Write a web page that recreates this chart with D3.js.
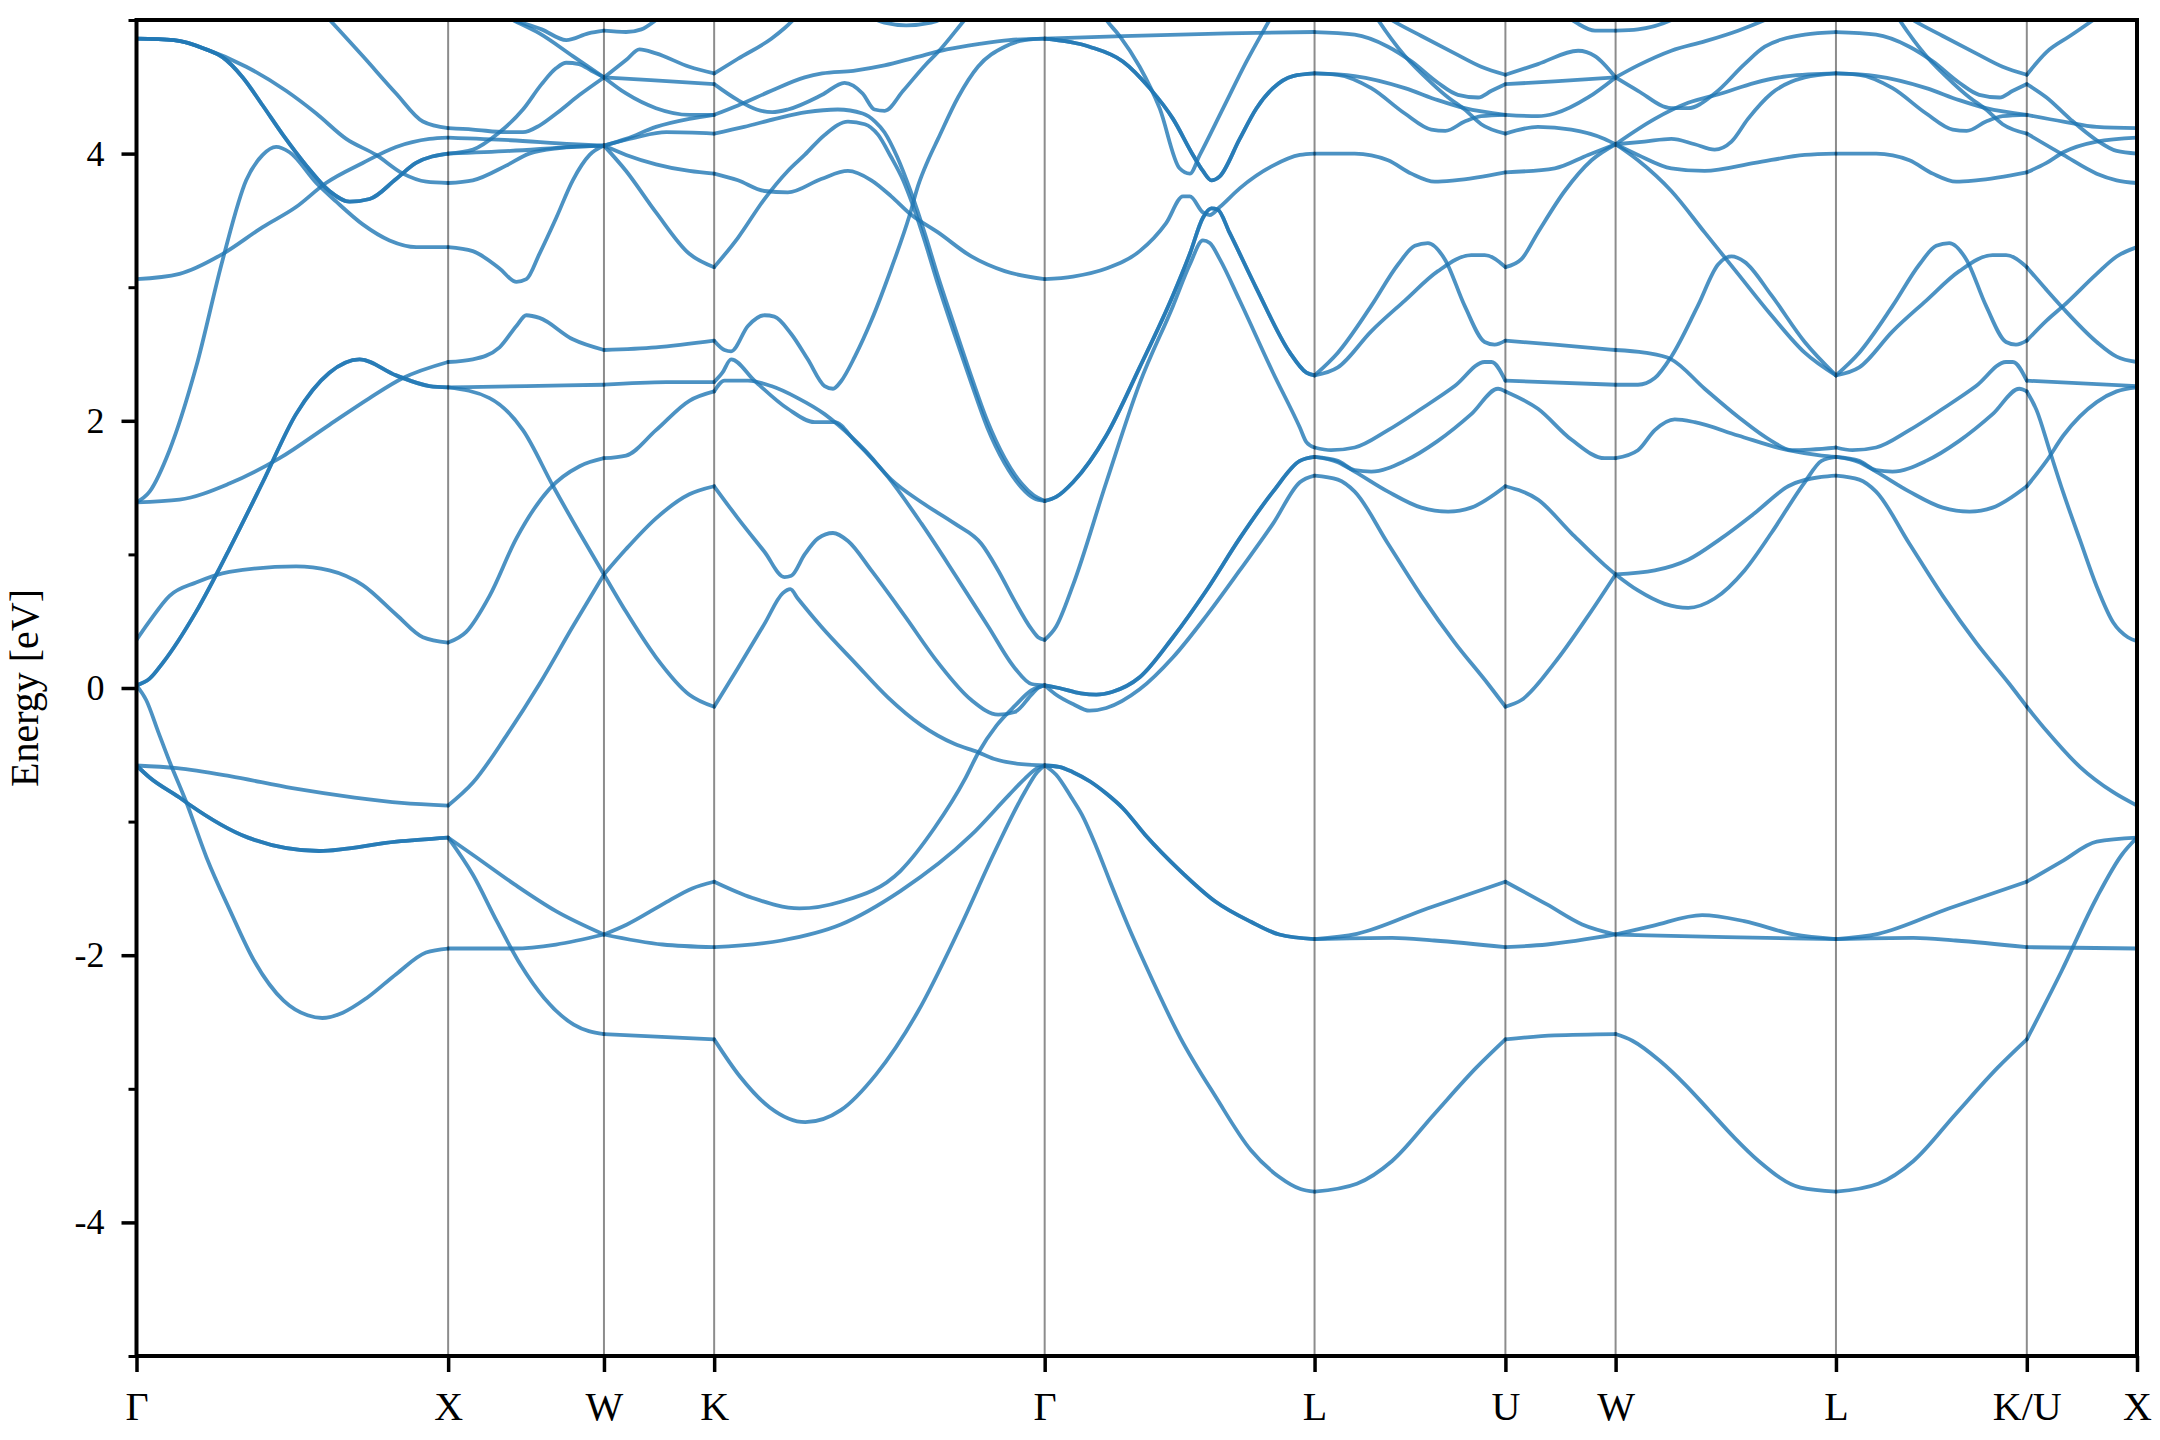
<!DOCTYPE html>
<html><head><meta charset="utf-8">
<script src="https://cdn.jsdelivr.net/npm/d3@7"></script>
<style>html,body{margin:0;padding:0;background:#fff;} svg{display:block;font-family:"Liberation Serif","Times New Roman",serif;}</style>
</head><body><svg id="chart" width="2160" height="1440"></svg>
<script>
// ---------- DATA ----------
const kTicks = [0, 1, 1.5, 1.8536, 2.9142, 3.7802, 4.3926, 4.7462, 5.4533, 6.0657, 6.4193];
const kLabels = ["Γ","X","W","K","Γ","L","U","W","L","K/U","X"];
const yMajorTicks = [-4,-2,0,2,4];
const yMinorTicks = [-5,-3,-1,1,3,5];

// Γ–X
const gxB2 = [[0,4.86],[0.12,4.85],[0.224,4.78],[0.277,4.72],[0.341,4.57],[0.405,4.36],[0.47,4.14],[0.545,3.91],[0.619,3.72],[0.684,3.64],[0.748,3.66],[0.833,3.81],[0.897,3.93],[1,4.00]];
const gxF = [[0,0.02],[0.042,0.07],[0.085,0.19],[0.191,0.57],[0.298,1.04],[0.405,1.54],[0.512,2.05],[0.619,2.36],[0.716,2.46],[0.833,2.34],[0.94,2.26],[1,2.25]];
const gxJ = [[0,-0.58],[0.042,-0.67],[0.138,-0.82],[0.168,-0.87],[0.358,-1.12],[0.586,-1.22],[0.834,-1.15],[1,-1.12]];
const bandsGX = [
  [[0.45,5.4],[0.53,5.22],[0.62,5.0],[0.726,4.73],[0.833,4.45],[0.919,4.24],[1,4.19]],
  [[0,4.86],[0.12,4.85],[0.224,4.78],[0.352,4.65],[0.48,4.47],[0.577,4.30],[0.673,4.11],[0.769,3.99],[0.855,3.85],[0.93,3.79],[1,3.78]],
  gxB2, gxB2,
  [[0,3.06],[0.138,3.10],[0.277,3.25],[0.405,3.45],[0.512,3.60],[0.608,3.78],[0.726,3.93],[0.833,4.05],[0.94,4.11],[1,4.12]],
  [[0,1.39],[0.042,1.47],[0.106,1.78],[0.191,2.40],[0.277,3.21],[0.352,3.80],[0.405,3.99],[0.448,4.05],[0.491,4.01],[0.577,3.78],[0.641,3.64],[0.726,3.47],[0.812,3.35],[0.898,3.30],[1,3.30]],
  [[0,1.39],[0.138,1.41],[0.298,1.53],[0.459,1.72],[0.619,1.97],[0.748,2.17],[0.855,2.32],[1,2.44]],
  gxF, gxF,
  [[0,0.36],[0.042,0.50],[0.106,0.69],[0.191,0.79],[0.298,0.87],[0.512,0.91],[0.619,0.88],[0.726,0.77],[0.833,0.55],[0.919,0.38],[1,0.34]],
  [[0,0.02],[0.031,-0.09],[0.07,-0.33],[0.106,-0.55],[0.159,-0.85],[0.225,-1.27],[0.301,-1.67],[0.377,-2.04],[0.472,-2.34],[0.549,-2.45],[0.596,-2.47],[0.662,-2.43],[0.739,-2.32],[0.834,-2.14],[0.929,-1.98],[1,-1.95]],
  [[0,-0.58],[0.13,-0.60],[0.3,-0.66],[0.5,-0.75],[0.7,-0.82],[0.85,-0.86],[1,-0.88]],
  gxJ, gxJ
];

// X–W
const bandsXW = [
  [[1.05,5.2],[1.208,5.0],[1.293,4.90],[1.4,4.73],[1.5,4.57]],
  [[1.1,5.1],[1.208,5.0],[1.3,4.93],[1.379,4.85],[1.45,4.90],[1.5,4.92]],
  [[1,4.19],[1.08,4.18],[1.186,4.16],[1.24,4.16],[1.293,4.21],[1.347,4.30],[1.422,4.44],[1.5,4.57]],
  [[1,4.12],[1.2,4.10],[1.4,4.07],[1.5,4.06]],
  [[1,4.00],[1.08,4.03],[1.16,4.15],[1.24,4.33],[1.30,4.52],[1.347,4.64],[1.379,4.68],[1.42,4.67],[1.46,4.62],[1.5,4.57]],
  [[1,4.00],[1.2,4.02],[1.4,4.05],[1.5,4.06]],
  [[1,3.78],[1.079,3.80],[1.186,3.91],[1.26,4.00],[1.35,4.04],[1.5,4.06]],
  [[1,3.30],[1.079,3.27],[1.165,3.14],[1.219,3.04],[1.251,3.06],[1.293,3.25],[1.347,3.52],[1.4,3.80],[1.454,3.99],[1.5,4.06]],
  [[1,2.44],[1.079,2.46],[1.165,2.55],[1.219,2.71],[1.251,2.79],[1.293,2.77],[1.4,2.61],[1.5,2.53]],
  [[1,2.25],[1.25,2.26],[1.5,2.27]],
  [[1,2.25],[1.133,2.17],[1.24,1.93],[1.337,1.51],[1.422,1.16],[1.5,0.85]],
  [[1,0.34],[1.058,0.42],[1.133,0.69],[1.219,1.12],[1.325,1.49],[1.422,1.66],[1.5,1.72]],
  [[1,-0.88],[1.079,-0.71],[1.186,-0.36],[1.293,0.03],[1.4,0.46],[1.5,0.85]],
  [[1,-1.12],[1.08,-1.25],[1.213,-1.47],[1.346,-1.67],[1.5,-1.845]],
  [[1,-1.12],[1.08,-1.40],[1.156,-1.745],[1.232,-2.07],[1.308,-2.32],[1.403,-2.52],[1.5,-2.59]],
  [[1,-1.95],[1.213,-1.95],[1.346,-1.92],[1.5,-1.845]]
];

// W–K
const bandsWK = [
  [[1.5,4.92],[1.571,4.91],[1.62,4.93],[1.667,5.0],[1.72,5.1]],
  [[1.5,4.57],[1.571,4.70],[1.614,4.78],[1.667,4.75],[1.774,4.65],[1.8536,4.60]],
  [[1.5,4.57],[1.65,4.55],[1.8536,4.52]],
  [[1.5,4.57],[1.571,4.45],[1.667,4.34],[1.774,4.29],[1.8536,4.29]],
  [[1.5,4.06],[1.571,4.11],[1.667,4.20],[1.774,4.26],[1.8536,4.29]],
  [[1.5,4.06],[1.6,4.12],[1.7,4.16],[1.8536,4.15]],
  [[1.5,4.06],[1.571,3.99],[1.667,3.92],[1.774,3.87],[1.8536,3.85]],
  [[1.5,4.06],[1.571,3.87],[1.667,3.56],[1.774,3.25],[1.8536,3.15]],
  [[1.5,2.53],[1.667,2.55],[1.8536,2.60]],
  [[1.5,2.27],[1.7,2.29],[1.8536,2.29]],
  [[1.5,1.72],[1.571,1.74],[1.667,1.93],[1.774,2.15],[1.8536,2.22]],
  [[1.5,0.85],[1.571,1.04],[1.667,1.27],[1.774,1.45],[1.8536,1.51]],
  [[1.5,0.85],[1.571,0.57],[1.667,0.23],[1.774,-0.05],[1.8536,-0.14]],
  [[1.5,-1.845],[1.574,-1.77],[1.688,-1.62],[1.783,-1.50],[1.8536,-1.45]],
  [[1.5,-1.845],[1.688,-1.92],[1.8536,-1.94]],
  [[1.5,-2.59],[1.8536,-2.63]]
];

// K–Γ
const bandsKG = [
  [[1.8536,4.60],[1.93,4.71],[2.037,4.86],[2.08,4.94],[2.15,5.1],[2.2,5.2]],
  [[1.8536,4.52],[1.93,4.40],[1.99,4.33],[2.04,4.31],[2.09,4.33],[2.2,4.44],[2.272,4.53],[2.33,4.45],[2.368,4.33],[2.401,4.32],[2.46,4.47],[2.53,4.66],[2.572,4.76],[2.657,5.0],[2.7,5.12]],
  [[1.8536,4.29],[1.93,4.36],[2.037,4.47],[2.144,4.57],[2.2,4.60],[2.3,4.62],[2.4,4.66],[2.5,4.72],[2.6,4.78],[2.7,4.82],[2.8,4.85],[2.9142,4.86]],
  [[2.33,5.05],[2.40,4.98],[2.47,4.96],[2.55,4.98],[2.62,5.05]],
  [[1.8536,4.15],[1.95,4.20],[2.05,4.26],[2.15,4.31],[2.25,4.33],[2.33,4.30],[2.37,4.24],[2.40,4.16],[2.44,3.98],[2.487,3.70],[2.53,3.40],[2.572,3.08],[2.62,2.74],[2.679,2.33],[2.73,2.00],[2.786,1.72],[2.84,1.53],[2.88,1.44],[2.9142,1.40]],
  [[1.8536,3.15],[1.93,3.37],[2.015,3.66],[2.09,3.87],[2.144,3.99],[2.208,4.14],[2.283,4.24],[2.337,4.22],[2.38,4.14],[2.42,3.98],[2.46,3.80],[2.487,3.64],[2.53,3.34],[2.572,3.02],[2.62,2.68],[2.679,2.28],[2.73,1.95],[2.786,1.68],[2.84,1.50],[2.88,1.42],[2.9142,1.40]],
  [[1.8536,2.60],[1.887,2.53],[1.908,2.52],[1.962,2.71],[2.015,2.79],[2.047,2.78],[2.101,2.65],[2.154,2.46],[2.208,2.26],[2.235,2.24],[2.262,2.30],[2.305,2.48],[2.358,2.75],[2.422,3.14],[2.481,3.54],[2.508,3.76],[2.54,3.95],[2.572,4.11],[2.636,4.42],[2.70,4.65],[2.786,4.80],[2.85,4.85],[2.9142,4.86]],
  [[1.8536,3.85],[1.93,3.80],[2.015,3.72],[2.09,3.71],[2.197,3.81],[2.283,3.87],[2.358,3.80],[2.422,3.68],[2.487,3.54],[2.572,3.41],[2.679,3.23],[2.786,3.12],[2.9142,3.06]],
  [[1.8536,2.29],[1.88,2.36],[1.908,2.46],[1.983,2.30],[2.09,2.09],[2.176,1.99],[2.24,1.99],[2.305,1.85],[2.411,1.58],[2.519,1.23],[2.626,0.85],[2.733,0.46],[2.818,0.15],[2.872,0.03],[2.9142,0.02]],
  [[1.8536,2.22],[1.887,2.30],[1.962,2.30],[2.037,2.26],[2.122,2.17],[2.208,2.05],[2.251,1.97],[2.337,1.78],[2.422,1.56],[2.519,1.39],[2.626,1.23],[2.711,1.08],[2.765,0.88],[2.818,0.65],[2.872,0.44],[2.893,0.38],[2.9142,0.36]],
  [[1.8536,1.51],[1.93,1.27],[2.015,1.02],[2.079,0.83],[2.101,0.84],[2.144,1.00],[2.187,1.12],[2.235,1.16],[2.283,1.10],[2.358,0.88],[2.465,0.54],[2.572,0.19],[2.679,-0.09],[2.765,-0.20],[2.818,-0.18],[2.872,-0.05],[2.893,0.00],[2.9142,0.02]],
  [[1.8536,-0.14],[1.93,0.15],[2.015,0.48],[2.074,0.71],[2.098,0.74],[2.122,0.67],[2.197,0.46],[2.305,0.19],[2.411,-0.07],[2.519,-0.28],[2.626,-0.42],[2.70,-0.48],[2.75,-0.53],[2.82,-0.565],[2.9142,-0.58]],
  [[1.8536,-1.45],[1.975,-1.57],[2.127,-1.65],[2.26,-1.60],[2.451,-1.37],[2.56,-1.05],[2.66,-0.675],[2.70,-0.49],[2.76,-0.28],[2.82,-0.13],[2.87,-0.02],[2.9142,0.02]],
  [[1.8536,-1.94],[2.070,-1.89],[2.26,-1.77],[2.451,-1.52],[2.679,-1.10],[2.80,-0.80],[2.85,-0.68],[2.89,-0.60],[2.9142,-0.58]],
  [[1.8536,-2.63],[1.937,-2.91],[2.032,-3.14],[2.146,-3.25],[2.26,-3.16],[2.374,-2.89],[2.508,-2.42],[2.641,-1.80],[2.755,-1.22],[2.85,-0.78],[2.89,-0.63],[2.9142,-0.58]]
];

// Γ–L
const glDark = [[2.9142,4.86],[3.058,4.80],[3.165,4.69],[3.251,4.49],[3.326,4.26],[3.39,3.99],[3.422,3.87],[3.449,3.80],[3.476,3.83],[3.54,4.11],[3.594,4.34],[3.647,4.49],[3.711,4.58],[3.7802,4.60]];
const glC = [[2.9142,1.40],[2.951,1.43],[3.005,1.54],[3.112,1.89],[3.219,2.40],[3.326,2.94],[3.38,3.25],[3.422,3.52],[3.449,3.59],[3.47,3.58],[3.507,3.41],[3.594,2.99],[3.701,2.51],[3.754,2.36],[3.7802,2.34]];
const glE = [[2.9142,0.02],[2.96,0.0],[3.03,-0.04],[3.08,-0.05],[3.13,-0.03],[3.219,0.08],[3.326,0.38],[3.433,0.73],[3.54,1.12],[3.647,1.47],[3.733,1.70],[3.7802,1.73]];
const glG = [[2.9142,-0.58],[2.96,-0.59],[3.005,-0.63],[3.06,-0.70],[3.112,-0.79],[3.165,-0.90],[3.237,-1.10],[3.35,-1.37],[3.463,-1.60],[3.576,-1.75],[3.667,-1.845],[3.7802,-1.88]];
const bandsGL = [
  [[2.9142,4.86],[3.165,4.88],[3.5,4.90],[3.7802,4.91]],
  glDark, glDark,
  [[3.06,5.2],[3.112,5.0],[3.155,4.88],[3.219,4.65],[3.283,4.34],[3.347,3.89],[3.38,3.85],[3.412,3.99],[3.487,4.34],[3.562,4.69],[3.626,4.96],[3.66,5.1]],
  [[2.9142,3.06],[3.005,3.08],[3.112,3.14],[3.219,3.27],[3.304,3.48],[3.358,3.68],[3.38,3.68],[3.422,3.56],[3.444,3.54],[3.476,3.60],[3.54,3.74],[3.647,3.91],[3.733,3.99],[3.7802,4.00]],
  glC, glC,
  [[2.9142,0.36],[2.951,0.46],[3.005,0.77],[3.112,1.54],[3.219,2.28],[3.326,2.86],[3.38,3.17],[3.422,3.35],[3.444,3.33],[3.476,3.21],[3.54,2.90],[3.647,2.36],[3.733,1.95],[3.754,1.84],[3.7802,1.80]],
  glE, glE,
  [[2.9142,0.02],[2.951,-0.05],[3.005,-0.12],[3.058,-0.17],[3.112,-0.15],[3.219,-0.01],[3.326,0.23],[3.433,0.54],[3.54,0.88],[3.647,1.23],[3.733,1.54],[3.7802,1.59]],
  glG, glG,
  [[2.9142,-0.58],[2.951,-0.65],[3.0,-0.82],[3.034,-0.95],[3.08,-1.19],[3.124,-1.45],[3.18,-1.77],[3.237,-2.07],[3.35,-2.62],[3.463,-3.06],[3.576,-3.46],[3.667,-3.66],[3.735,-3.75],[3.7802,-3.77]]
];

// L–U
const bandsLU = [
  [[3.7802,4.91],[3.909,4.89],[4.016,4.80],[4.091,4.69],[4.176,4.53],[4.24,4.44],[4.305,4.42],[4.348,4.47],[4.3926,4.52]],
  [[3.95,5.12],[4.027,5.0],[4.123,4.88],[4.23,4.75],[4.315,4.65],[4.3926,4.59]],
  [[3.93,5.2],[3.984,5.0],[4.07,4.73],[4.155,4.53],[4.209,4.42],[4.262,4.33],[4.315,4.22],[4.3926,4.15]],
  [[3.7802,4.60],[3.855,4.59],[3.962,4.49],[4.07,4.30],[4.155,4.18],[4.2,4.17],[4.262,4.24],[4.315,4.28],[4.3926,4.29]],
  [[3.7802,4.60],[3.909,4.58],[4.07,4.49],[4.176,4.40],[4.262,4.34],[4.3926,4.29]],
  [[3.7802,4.00],[3.909,4.00],[4.016,3.95],[4.091,3.85],[4.166,3.79],[4.23,3.80],[4.3926,3.86]],
  [[3.7802,2.34],[3.855,2.51],[3.962,2.86],[4.048,3.17],[4.102,3.31],[4.144,3.33],[4.198,3.21],[4.262,2.86],[4.326,2.59],[4.358,2.57],[4.3926,2.60]],
  [[3.7802,2.34],[3.855,2.40],[3.962,2.67],[4.07,2.90],[4.176,3.12],[4.283,3.24],[4.326,3.24],[4.3926,3.15]],
  [[3.7802,1.80],[3.833,1.78],[3.909,1.80],[4.016,1.93],[4.123,2.09],[4.23,2.26],[4.326,2.44],[4.348,2.44],[4.3926,2.30]],
  [[3.7802,1.73],[3.855,1.70],[3.909,1.63],[3.962,1.62],[4.07,1.70],[4.176,1.85],[4.283,2.05],[4.369,2.24],[4.3926,2.22]],
  [[3.7802,1.73],[3.855,1.69],[3.909,1.62],[4.016,1.47],[4.123,1.35],[4.209,1.32],[4.283,1.35],[4.3926,1.51]],
  [[3.7802,1.59],[3.855,1.56],[3.909,1.47],[4.016,1.08],[4.123,0.69],[4.23,0.34],[4.337,0.03],[4.3926,-0.14]],
  [[3.7802,-1.88],[4.029,-1.87],[4.164,-1.89],[4.3926,-1.94]],
  [[3.7802,-1.88],[3.916,-1.84],[4.142,-1.65],[4.3926,-1.45]],
  [[3.7802,-3.77],[3.916,-3.71],[4.029,-3.54],[4.164,-3.19],[4.30,-2.84],[4.3926,-2.63]]
];

// U–W
const bandsUW = [
  [[4.3926,4.59],[4.497,4.67],[4.626,4.77],[4.68,4.73],[4.7462,4.57]],
  [[4.56,5.08],[4.62,4.98],[4.68,4.92],[4.7462,4.92]],
  [[4.3926,4.52],[4.55,4.54],[4.7462,4.57]],
  [[4.3926,4.29],[4.497,4.28],[4.551,4.30],[4.658,4.42],[4.7462,4.57]],
  [[4.3926,4.15],[4.497,4.20],[4.604,4.18],[4.711,4.11],[4.7462,4.07]],
  [[4.3926,3.86],[4.551,3.89],[4.658,3.99],[4.7462,4.07]],
  [[4.3926,3.15],[4.444,3.21],[4.497,3.41],[4.583,3.72],[4.669,3.95],[4.7462,4.07]],
  [[4.3926,2.60],[4.551,2.57],[4.7462,2.53]],
  [[4.3926,2.30],[4.7462,2.27]],
  [[4.3926,2.22],[4.497,2.09],[4.604,1.86],[4.711,1.72],[4.7462,1.72]],
  [[4.3926,1.51],[4.497,1.41],[4.604,1.16],[4.711,0.92],[4.7462,0.85]],
  [[4.3926,-0.14],[4.444,-0.09],[4.551,0.19],[4.658,0.54],[4.7462,0.85]],
  [[4.3926,-1.94],[4.526,-1.92],[4.7462,-1.845]],
  [[4.3926,-1.45],[4.526,-1.62],[4.639,-1.77],[4.7462,-1.845]],
  [[4.3926,-2.63],[4.55,-2.60],[4.7462,-2.59]]
];

// W–L
const bandsWL = [
  [[4.7462,4.92],[4.818,4.93],[4.925,5.0],[5.0,5.1]],
  [[4.7462,4.57],[4.818,4.66],[4.925,4.77],[5.032,4.84],[5.139,4.92],[5.225,5.0],[5.3,5.08]],
  [[4.7462,4.57],[4.818,4.47],[4.925,4.34],[4.979,4.34],[5.064,4.45],[5.16,4.67],[5.225,4.80],[5.353,4.89],[5.4533,4.91]],
  [[4.7462,4.07],[4.872,4.26],[4.979,4.38],[5.085,4.45],[5.193,4.53],[5.30,4.58],[5.4533,4.60]],
  [[4.7462,4.07],[4.839,4.09],[4.925,4.11],[5.0,4.07],[5.064,4.03],[5.118,4.09],[5.171,4.26],[5.246,4.45],[5.353,4.57],[5.4533,4.60]],
  [[4.7462,4.07],[4.818,3.99],[4.925,3.89],[5.032,3.87],[5.193,3.93],[5.353,3.99],[5.4533,4.00]],
  [[4.7462,4.07],[4.818,3.95],[4.925,3.72],[5.032,3.41],[5.139,3.10],[5.246,2.79],[5.353,2.51],[5.4533,2.34]],
  [[4.7462,2.53],[4.839,2.51],[4.925,2.46],[5.032,2.24],[5.139,2.03],[5.246,1.85],[5.311,1.78],[5.4533,1.80]],
  [[4.7462,1.72],[4.818,1.78],[4.872,1.93],[4.936,2.01],[5.0,1.99],[5.139,1.89],[5.30,1.78],[5.407,1.74],[5.4533,1.73]],
  [[4.7462,2.27],[4.818,2.27],[4.872,2.32],[4.925,2.48],[5.01,2.86],[5.075,3.17],[5.118,3.23],[5.16,3.19],[5.246,2.94],[5.353,2.59],[5.4533,2.34]],
  [[4.7462,0.85],[4.872,0.88],[4.979,0.96],[5.085,1.12],[5.193,1.31],[5.30,1.51],[5.407,1.58],[5.4533,1.59]],
  [[4.7462,0.85],[4.818,0.73],[4.904,0.63],[4.979,0.60],[5.064,0.67],[5.16,0.88],[5.246,1.16],[5.353,1.54],[5.407,1.70],[5.4533,1.73]],
  [[4.7462,-1.845],[4.865,-1.78],[5.024,-1.70],[5.159,-1.745],[5.318,-1.845],[5.4533,-1.88]],
  [[4.7462,-1.845],[5.1,-1.865],[5.4533,-1.88]],
  [[4.7462,-2.59],[4.80,-2.64],[4.888,-2.79],[4.97,-2.97],[5.046,-3.16],[5.125,-3.36],[5.205,-3.54],[5.34,-3.74],[5.4533,-3.77]]
];

// L–K
const bandsLK = [
  [[5.4533,4.91],[5.582,4.89],[5.689,4.80],[5.764,4.69],[5.849,4.53],[5.913,4.44],[5.978,4.42],[6.021,4.47],[6.0657,4.52]],
  [[5.623,5.12],[5.700,5.0],[5.796,4.88],[5.903,4.75],[5.988,4.65],[6.0657,4.59]],
  [[5.603,5.2],[5.657,5.0],[5.743,4.73],[5.828,4.53],[5.882,4.42],[5.935,4.33],[5.988,4.22],[6.0657,4.15]],
  [[5.4533,4.60],[5.528,4.59],[5.635,4.49],[5.743,4.30],[5.828,4.18],[5.873,4.17],[5.935,4.24],[5.988,4.28],[6.0657,4.29]],
  [[5.4533,4.60],[5.582,4.58],[5.743,4.49],[5.849,4.40],[5.935,4.34],[6.0657,4.29]],
  [[5.4533,4.00],[5.582,4.00],[5.689,3.95],[5.764,3.85],[5.839,3.79],[5.903,3.80],[6.0657,3.86]],
  [[5.4533,2.34],[5.528,2.51],[5.635,2.86],[5.721,3.17],[5.775,3.31],[5.817,3.33],[5.871,3.21],[5.935,2.86],[5.999,2.59],[6.031,2.57],[6.0657,2.60]],
  [[5.4533,2.34],[5.528,2.40],[5.635,2.67],[5.743,2.90],[5.849,3.12],[5.956,3.24],[5.999,3.24],[6.0657,3.15]],
  [[5.4533,1.80],[5.506,1.78],[5.582,1.80],[5.689,1.93],[5.796,2.09],[5.903,2.26],[5.999,2.44],[6.021,2.44],[6.0657,2.30]],
  [[5.4533,1.73],[5.528,1.70],[5.582,1.63],[5.635,1.62],[5.743,1.70],[5.849,1.85],[5.956,2.05],[6.042,2.24],[6.0657,2.22]],
  [[5.4533,1.73],[5.528,1.69],[5.582,1.62],[5.689,1.47],[5.796,1.35],[5.882,1.32],[5.956,1.35],[6.0657,1.51]],
  [[5.4533,1.59],[5.528,1.56],[5.582,1.47],[5.689,1.08],[5.796,0.69],[5.903,0.34],[6.010,0.03],[6.0657,-0.14]],
  [[5.4533,-1.88],[5.702,-1.87],[5.837,-1.89],[6.0657,-1.94]],
  [[5.4533,-1.88],[5.589,-1.84],[5.815,-1.65],[6.0657,-1.45]],
  [[5.4533,-3.77],[5.589,-3.71],[5.702,-3.54],[5.837,-3.19],[5.973,-2.84],[6.0657,-2.63]]
];

// U–X
const bandsUX = [
  [[6.0657,4.59],[6.129,4.76],[6.204,4.88],[6.279,5.0],[6.34,5.1]],
  [[6.0657,4.52],[6.129,4.42],[6.204,4.26],[6.290,4.10],[6.354,4.02],[6.4193,4.00]],
  [[6.0657,4.29],[6.183,4.24],[6.290,4.20],[6.4193,4.19]],
  [[6.0657,4.15],[6.183,3.99],[6.290,3.85],[6.354,3.80],[6.4193,3.78]],
  [[6.0657,3.86],[6.129,3.93],[6.183,4.01],[6.290,4.09],[6.4193,4.12]],
  [[6.0657,3.15],[6.129,2.98],[6.183,2.84],[6.290,2.59],[6.354,2.48],[6.4193,2.44]],
  [[6.0657,2.60],[6.129,2.75],[6.183,2.86],[6.290,3.10],[6.354,3.23],[6.4193,3.30]],
  [[6.0657,2.30],[6.4193,2.26]],
  [[6.0657,2.22],[6.097,2.08],[6.14,1.77],[6.183,1.46],[6.236,1.11],[6.29,0.76],[6.343,0.49],[6.39,0.38],[6.4193,0.35]],
  [[6.0657,1.51],[6.129,1.70],[6.183,1.89],[6.290,2.14],[6.354,2.22],[6.4193,2.25]],
  [[6.0657,-0.14],[6.129,-0.32],[6.236,-0.59],[6.343,-0.78],[6.4193,-0.88]],
  [[6.0657,-1.45],[6.177,-1.30],[6.29,-1.15],[6.4193,-1.12]],
  [[6.0657,-1.94],[6.4193,-1.95]],
  [[6.0657,-2.63],[6.177,-2.12],[6.29,-1.57],[6.37,-1.25],[6.4193,-1.12]]
];

// ---------- DRAW ----------
const plot = {left:136.5, right:2137, top:20, bottom:1356};
const x = d3.scaleLinear().domain([kTicks[0], kTicks[kTicks.length-1]]).range([plot.left, plot.right]);
const y = d3.scaleLinear().domain([-5, 5]).range([plot.bottom, plot.top]);
const svg = d3.select("#chart");

svg.append("rect").attr("width",2160).attr("height",1440).attr("fill","#fff");
svg.append("defs").append("clipPath").attr("id","clip").append("rect")
  .attr("x",plot.left).attr("y",plot.top).attr("width",plot.right-plot.left).attr("height",plot.bottom-plot.top);

const allBands = [].concat(bandsGX, bandsXW, bandsWK, bandsKG, bandsGL, bandsLU, bandsUW, bandsWL, bandsLK, bandsUX);
const line = d3.line().x(d=>x(d[0])).y(d=>y(d[1])).curve(d3.curveMonotoneX);

svg.append("g").attr("clip-path","url(#clip)")
  .selectAll("path").data(allBands).join("path")
  .attr("d", line).attr("fill","none")
  .attr("stroke","#1f77b4").attr("stroke-opacity",0.8)
  .attr("stroke-width",3.8).attr("stroke-linejoin","round").attr("stroke-linecap","round");

svg.append("g").selectAll("line").data(kTicks.slice(1,-1)).join("line")
  .attr("x1",d=>x(d)).attr("x2",d=>x(d)).attr("y1",plot.top).attr("y2",plot.bottom)
  .attr("stroke","#000").attr("stroke-opacity",0.45).attr("stroke-width",2);

// axes
const xAxis = d3.axisBottom(x).tickValues(kTicks).tickFormat((d,i)=>kLabels[i]).tickSize(16).tickSizeOuter(0).tickPadding(20);
const gx = svg.append("g").attr("transform",`translate(0,${plot.bottom})`).call(xAxis);
gx.select(".domain").remove();
gx.selectAll(".tick line").attr("stroke","#000").attr("stroke-width",3.5);
gx.selectAll(".tick text").attr("font-size",40).attr("font-family","Liberation Serif").attr("fill","#000");

const yAxis = d3.axisLeft(y).tickValues(yMajorTicks).tickFormat(d=>String(d)).tickSize(15).tickSizeOuter(0).tickPadding(17);
const gy = svg.append("g").attr("transform",`translate(${plot.left},0)`).call(yAxis);
gy.select(".domain").remove();
gy.selectAll(".tick line").attr("stroke","#000").attr("stroke-width",3.5);
gy.selectAll(".tick text").attr("font-size",36).attr("font-family","Liberation Serif").attr("fill","#000");

const yMinor = d3.axisLeft(y).tickValues(yMinorTicks).tickFormat("").tickSize(8).tickSizeOuter(0);
const gym = svg.append("g").attr("transform",`translate(${plot.left},0)`).call(yMinor);
gym.select(".domain").remove();
gym.selectAll(".tick line").attr("stroke","#000").attr("stroke-width",3);

svg.append("rect").attr("x",plot.left).attr("y",plot.top)
  .attr("width",plot.right-plot.left).attr("height",plot.bottom-plot.top)
  .attr("fill","none").attr("stroke","#000").attr("stroke-width",4);

svg.append("text").attr("transform",`translate(38,${(plot.top+plot.bottom)/2}) rotate(-90)`)
  .attr("text-anchor","middle").attr("font-size",40).attr("font-family","Liberation Serif")
  .attr("fill","#000").text("Energy [eV]");
</script></body></html>
